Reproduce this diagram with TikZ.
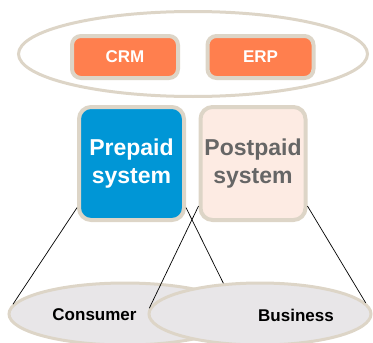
\documentclass[tikz,border=0pt]{standalone}
\usepackage{fontspec}
\setmainfont{Liberation Sans}
\usepackage{xcolor}
\usepackage{tikz}
\usetikzlibrary{shapes.geometric}

\definecolor{frame}{HTML}{DDD5C7}
\definecolor{appcol}{HTML}{FF7F4E}
\definecolor{precol}{HTML}{0096D6}
\definecolor{postcol}{HTML}{FDEBE3}
\definecolor{segcol}{HTML}{E8E6E8}
\definecolor{posttext}{HTML}{666666}

\tikzset{
  appbox/.style={draw=frame, line width=4pt, fill=appcol, rounded corners=9pt,
    minimum width=106pt, minimum height=42pt, inner sep=0pt, text=white,
    font=\fontsize{17}{20}\selectfont\bfseries},
  sysbox/.style={draw=frame, line width=4pt, rounded corners=12pt,
    minimum width=105pt, minimum height=113pt, inner sep=0pt, align=center,
    font=\fontsize{23}{28}\selectfont\bfseries},
  segment/.style={ellipse, draw=frame, line width=3pt, fill=segcol, inner sep=0pt,
    minimum height=62pt},
  seglabel/.style={font=\fontsize{17}{20}\selectfont\bfseries},
  link/.style={line width=0.7pt}
}

\begin{document}
\begin{tikzpicture}[x=1pt, y=-1pt]
        \useasboundingbox (0,0) rectangle (373,343);

        \node[ellipse, draw=frame, line width=3pt, fill=white, inner sep=0pt,
              minimum width=349pt, minimum height=85pt] (apps) at (193,54) {};
        \node[appbox] (CRM) at (125,57) {CRM};
        \node[appbox] (ERP) at (260.5,57) {ERP};

        \node[sysbox, fill=precol, text=white] (prepaid) at (131.5,163.5) {Prepaid\\system};
        \node[sysbox, fill=postcol, text=posttext] (postpaid) at (253,163.5) {Postpaid\\system};

        \node[segment, minimum width=232pt] (consumer) at (125,314) {};
        \node[segment, minimum width=222pt] (business) at (260,314) {};
        \node[seglabel] (consumer_lbl) at (94.5,315) {Consumer};
        \node[seglabel] (business_lbl) at (296,315) {Business};

        \draw[link] (prepaid.219) -- (consumer.175);
        \draw[link] (prepaid.321) -- (business.140);
        \draw[link] (postpaid.218) -- (business.177);
        \draw[link] (postpaid.322) -- (business.6);
\end{tikzpicture}
\end{document}
